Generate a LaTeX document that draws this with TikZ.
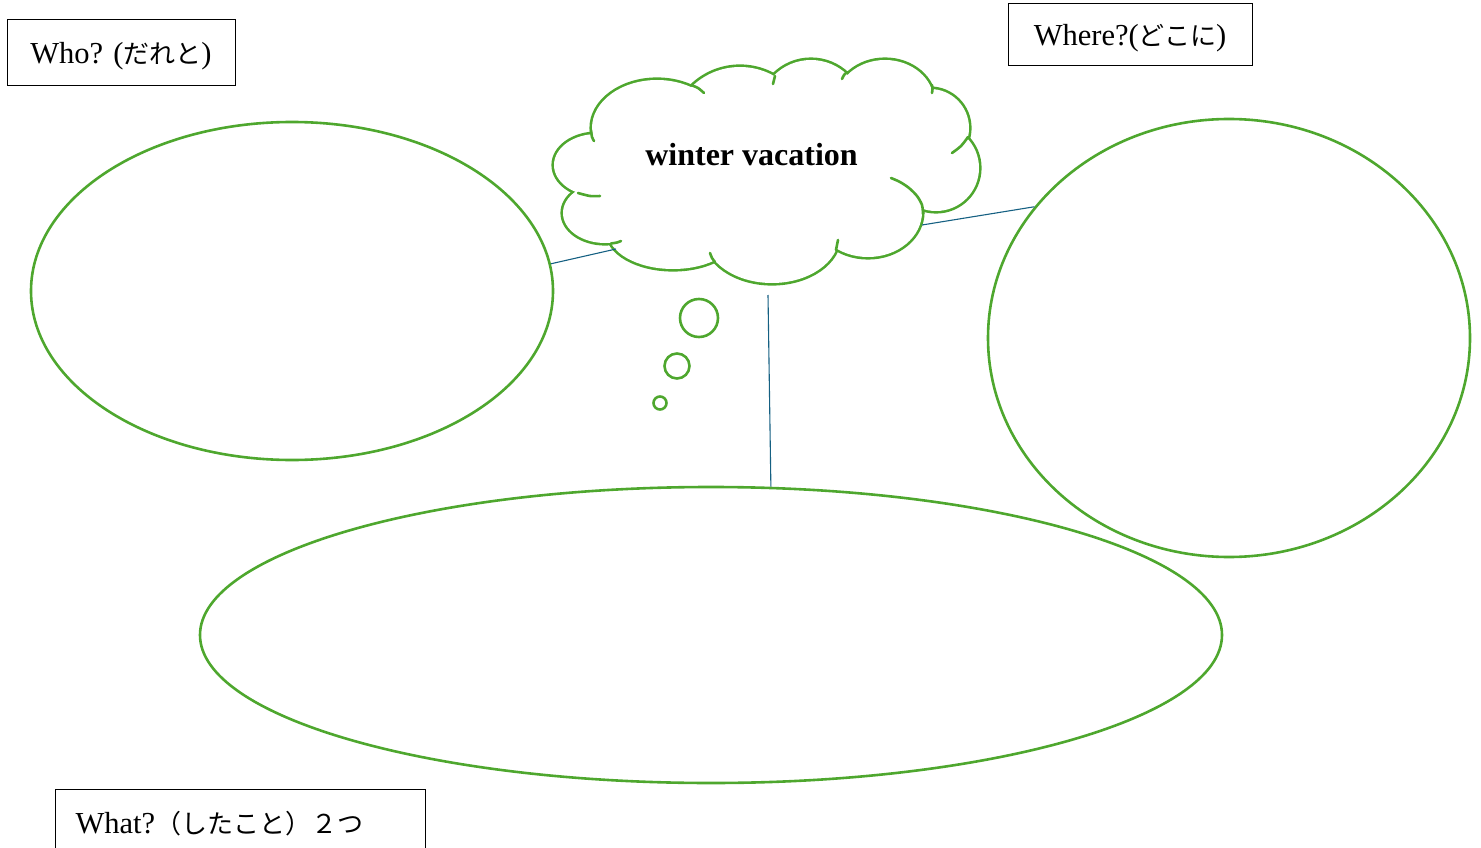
\documentclass[tikz,border=0pt]{standalone}
\usepackage{fontspec}
\setmainfont{Liberation Serif}
\newfontfamily\jpfont{Noto Sans CJK JP}
\usepackage{tikz}
\usepackage{xcolor}
\usetikzlibrary{positioning, shapes.geometric}

\definecolor{wgreen}{HTML}{4EA72E}
\definecolor{wblue}{HTML}{156082}
\newcommand{\jp}[1]{{\fontsize{26}{30}\selectfont\jpfont #1}}

\begin{document}
\begin{tikzpicture}[
  x=1pt, y=-1pt,
  every node/.style={font=\fontsize{30.5}{36}\selectfont},
  labelbox/.style={draw, line width=1pt, inner sep=0pt, align=center,
                   text height=28pt, text depth=7pt},
  bubble/.style={ellipse, draw=wgreen, line width=2.6pt, inner sep=0pt},
  cloudline/.style={draw=wgreen, line width=2.6pt, line cap=round},
  link/.style={draw=wblue, line width=1.1pt}
]
\useasboundingbox (0,0) rectangle (1481,848);
\clip (0,0) rectangle (1481,848);

% ---- Labels ----
\node[labelbox, minimum width=228pt, minimum height=66pt] (whobox) at (121,53)
  {Who? (\jp{だれと})};
\node[labelbox, minimum width=244pt, minimum height=62pt] (wherebox) at (1130,35)
  {Where?(\jp{どこに})};
\node[labelbox, anchor=north west, minimum width=370pt, minimum height=66pt,
      text width=330pt, align=left, inner xsep=20pt] (whatbox) at (55,789)
  {What?\jp{（したこと）２つ}};

% ---- Answer bubbles ----
\node[bubble, minimum width=522pt, minimum height=338pt] (who) at (292,291) {};
\node[bubble, minimum width=482pt, minimum height=438pt] (where) at (1229,338) {};
\node[bubble, minimum width=1022pt, minimum height=296pt] (what) at (711,635) {};

% ---- Thought cloud: outline of the lobes, inside blanked ----
\foreach \cx/\cy/\rx/\ry in {657/128/65/48, 597/165/43/31, 605/213/42/30,
    673/232/65/37, 772/236/67/47, 868/212/54/45, 936/168/43/43,
    930/128/39/39, 885/102/49/42, 811/112/52/52, 740/136/69/69}
  \draw[cloudline, line width=5.2pt] (\cx,\cy) ellipse[x radius=\rx pt, y radius=\ry pt];
\foreach \cx/\cy/\rx/\ry in {657/128/65/48, 597/165/43/31, 605/213/42/30,
    673/232/65/37, 772/236/67/47, 868/212/54/45, 936/168/43/43,
    930/128/39/39, 885/102/49/42, 811/112/52/52, 740/136/69/69, 765/170/170/75}
  \fill[white] (\cx,\cy) ellipse[x radius=\rx pt, y radius=\ry pt];

% inner hooks
\draw[cloudline] plot[smooth] coordinates {(691,85) (698,88) (704,93)};
\draw[cloudline] plot[smooth] coordinates {(591,130) (592,137) (594,141)};
\draw[cloudline] plot[smooth] coordinates {(578,193) (590,196) (600,196)};
\draw[cloudline] plot[smooth] coordinates {(611,243.5) (617,242.5) (621,241)};
\draw[cloudline] plot[smooth] coordinates {(715,262) (712,258) (710,253)};
\draw[cloudline] plot[smooth] coordinates {(836,250) (837,245) (838,240)};
\draw[cloudline] plot[smooth] coordinates {(923,214) (922,205) (917,196) (909,188) (900,182) (891,178)};
\draw[cloudline] plot[smooth] coordinates {(968,137) (961,146) (952,153)};
\draw[cloudline] plot[smooth] coordinates {(932,85) (932.5,89) (932,93)};
\draw[cloudline] plot[smooth] coordinates {(847,72) (844,75) (842,79)};
\draw[cloudline] plot[smooth] coordinates {(775,76) (774,80) (773,84)};

\node[font=\fontsize{32}{36}\selectfont\bfseries, anchor=base] (cloud) at (751.5,165)
  {winter vacation};
\coordinate (cloudL) at (616,249);
\coordinate (cloudR) at (922,225);
\coordinate (cloudB) at (768,295);

% ---- Thought dots ----
\draw[cloudline] (699,318) circle[radius=19pt];
\draw[cloudline] (677,366) circle[radius=12.5pt];
\draw[cloudline] (660,403) circle[radius=6.5pt];

% ---- Connectors ----
\draw[link] (who.6.5) -- (cloudL);
\draw[link] (cloudR) -- (where.146.6);
\draw[link] (cloudB) -- (what.68.1);

\end{tikzpicture}
\end{document}
